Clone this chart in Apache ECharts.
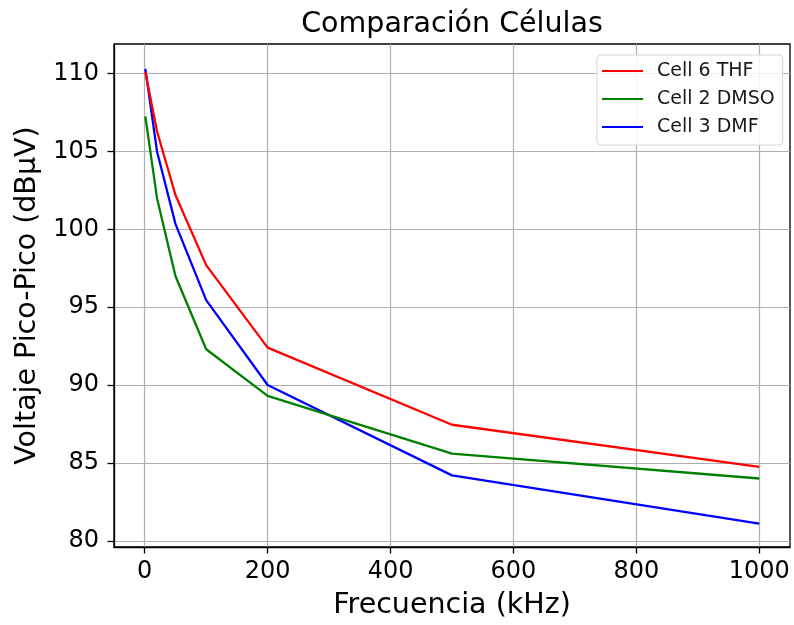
<!DOCTYPE html>
<html><head><meta charset="utf-8">
<script src="https://cdn.jsdelivr.net/npm/echarts@6/dist/echarts.min.js"></script>
<style>html,body{margin:0;padding:0;background:#fff}#c{width:794px;height:625px}</style>
</head><body><div id="c"></div>
<script>
const frequencies = [1, 20, 50, 100, 200, 500, 1000];
const cell6THF = [110.1, 106.3, 102.2, 97.7, 92.4, 87.45, 84.75];
const cell2DMSO = [107.25, 102.0, 97.0, 92.3, 89.3, 85.6, 84.0];
const cell3DMF = [110.3, 105.0, 100.35, 95.45, 90.0, 84.2, 81.1];
const seriesNames = ['Cell 6 THF', 'Cell 2 DMSO', 'Cell 3 DMF'];
const seriesColors = ['#ff0000', '#008000', '#0000ff'];
const xTicks = [0, 200, 400, 600, 800, 1000];
const yTicks = [80, 85, 90, 95, 100, 105, 110];
const titleText = 'Comparación Células';
const xLabel = 'Frecuencia (kHz)';
const yLabel = 'Voltaje Pico-Pico (dBµV)';

const FONT = 'DejaVu Sans';
const seriesData = [cell6THF, cell2DMSO, cell3DMF];

const chart = echarts.init(document.getElementById('c'), null, {renderer: 'canvas'});
chart.setOption({
  animation: false,
  backgroundColor: '#fff',
  title: {
    text: titleText, left: 452, top: 10, textAlign: 'center', padding: 0,
    textStyle: {fontFamily: FONT, fontSize: 28.5, fontWeight: 'normal', color: '#000'}
  },
  grid: {left: 114, right: 4, top: 44, bottom: 76, show: true, borderColor: '#000', borderWidth: 1.3, backgroundColor: 'transparent'},
  legend: {
    orient: 'vertical', left: 597, top: 55,
    icon: 'rect', itemWidth: 41, itemHeight: 2.2, itemGap: 6,
    padding: [5, 8, 7, 5],
    borderColor: '#d6d6d6', borderWidth: 1, borderRadius: 4, backgroundColor: 'rgba(255,255,255,0.85)',
    textStyle: {fontFamily: FONT, fontSize: 19, lineHeight: 22, color: '#1a1a1a', padding: [0, 0, 0, 9]},
    data: seriesNames
  },
  xAxis: {
    type: 'value', min: -50, max: 1050,
    name: xLabel, nameLocation: 'middle', nameGap: 44,
    nameTextStyle: {fontFamily: FONT, fontSize: 28.5, color: '#000'},
    axisLine: {show: true, onZero: false, lineStyle: {color: '#000', width: 1.3}},
    axisTick: {show: true, inside: false, customValues: xTicks, length: 6.5, lineStyle: {color: '#000', width: 1.3}},
    axisLabel: {customValues: xTicks, fontFamily: FONT, fontSize: 24, color: '#000', margin: 13, formatter: v => String(v)},
    splitLine: {show: true, lineStyle: {color: '#b0b0b0', width: 1.2}}
  },
  yAxis: {
    type: 'value', min: 79.6, max: 111.9,
    name: yLabel, nameLocation: 'middle', nameGap: 67,
    nameTextStyle: {fontFamily: FONT, fontSize: 28.5, color: '#000'},
    axisLine: {show: true, onZero: false, lineStyle: {color: '#000', width: 1.3}},
    axisTick: {show: true, inside: false, customValues: yTicks, length: 6.5, lineStyle: {color: '#000', width: 1.3}},
    axisLabel: {customValues: yTicks, fontFamily: FONT, fontSize: 24, color: '#000', margin: 15, formatter: v => String(v)},
    splitLine: {show: true, lineStyle: {color: '#b0b0b0', width: 1.2}}
  },
  series: seriesNames.map((name, i) => ({
    name: name, type: 'line', symbol: 'none',
    data: frequencies.map((f, j) => [f, seriesData[i][j]]),
    lineStyle: {color: seriesColors[i], width: 2.3},
    itemStyle: {color: seriesColors[i]},
    z: 3 + (2 - i)
  }))
});
</script></body></html>
